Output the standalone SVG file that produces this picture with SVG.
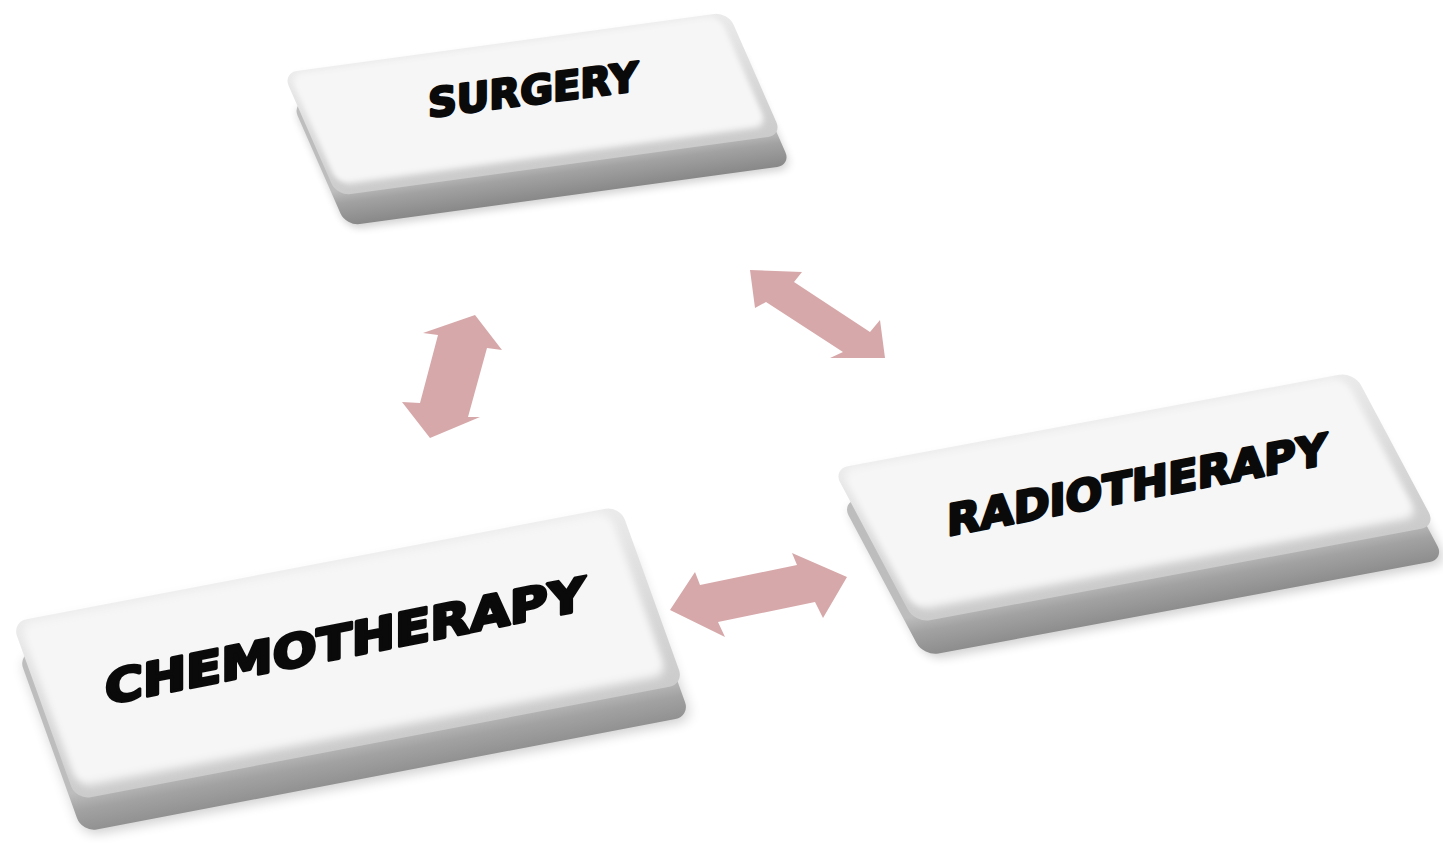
<svg xmlns="http://www.w3.org/2000/svg" width="1443" height="843" viewBox="0 0 1443 843">
  <defs>
    <linearGradient id="side" gradientUnits="userSpaceOnUse" x1="0" y1="96" x2="0" y2="124">
      <stop offset="0" stop-color="#bdbdbd"/>
      <stop offset="0.35" stop-color="#a2a2a2"/>
      <stop offset="1" stop-color="#888888"/>
    </linearGradient>
    <linearGradient id="edge" x1="0" y1="0" x2="0" y2="1">
      <stop offset="0" stop-color="#ebebeb"/>
      <stop offset="1" stop-color="#cbcbcb"/>
    </linearGradient>
    <filter id="soft" x="-10%" y="-10%" width="120%" height="120%">
      <feGaussianBlur stdDeviation="0.6 2.5"/>
    </filter>
    <filter id="sh" x="-10%" y="-20%" width="120%" height="140%">
      <feGaussianBlur stdDeviation="1 3"/>
    </filter>
    <style>
      .shadow { fill: #000; opacity: 0.18; }
      .face { fill: #f6f6f6; }
      .label { font-family: "DejaVu Sans", "Liberation Sans", sans-serif; font-weight: bold; fill: #0a0a0a; stroke: #0a0a0a; stroke-linejoin: round; text-anchor: middle; }
      .arrow { fill: #d7a8aa; }
    </style>
  </defs>
  <rect width="1443" height="843" fill="#ffffff"/>

  <g id="connectors">
    <polygon class="arrow" points="475,315 502,350 487,348 468,417 480,417 430,438 402,402 420,403 438,335 423,333"/>
    <polygon class="arrow" points="750,270 802,272 794,282 870,332 880,320 885,358 830,358 843,352 766,302 755,308"/>
    <polygon class="arrow" points="670,610 695,572 700,585 797,565 792,553 847,577 823,618 815,602 718,622 725,637"/>
  </g>

  <g id="surgery">
    <g transform="matrix(4.45,-0.61,0.54,1.23,283,73)">
      <rect class="shadow" x="-0.9" y="27" width="100" height="100" rx="3.1" ry="10.4" filter="url(#sh)"/>
      <rect x="-0.88" y="23.95" width="100" height="100" rx="3.1" ry="10.4" fill="url(#side)"/>
      <rect x="0" y="0" width="100" height="100" rx="3.1" ry="10.4" fill="url(#edge)"/>
      <rect class="face" x="1.2" y="1.5" width="96.6" height="90" rx="3" ry="10" filter="url(#soft)"/>
    </g>
    <text class="label" transform="translate(533,104) skewY(-7.3)" x="0" y="0" font-size="40" stroke-width="2.6" textLength="210" lengthAdjust="spacingAndGlyphs">SURGERY</text>
  </g>

  <g id="radiotherapy">
    <g transform="matrix(5.21,-0.97,0.82,1.54,833,469)">
      <rect class="shadow" x="-1.3" y="23.5" width="100" height="100" rx="2.85" ry="8.6" filter="url(#sh)"/>
      <rect x="-1.6" y="20.6" width="100" height="100" rx="2.85" ry="8.6" fill="url(#side)"/>
      <rect x="0" y="0" width="100" height="100" rx="2.85" ry="8.6" fill="url(#edge)"/>
      <rect class="face" x="1.1" y="1.5" width="96.8" height="91" rx="2.8" ry="8.5" filter="url(#soft)"/>
    </g>
    <text class="label" transform="translate(1137,500) skewY(-10.75)" x="0" y="0" font-size="43" stroke-width="2.8" textLength="380" lengthAdjust="spacingAndGlyphs">RADIOTHERAPY</text>
  </g>

  <g id="chemotherapy">
    <g transform="matrix(6.08,-1.16,0.64,1.78,12,622)">
      <rect class="shadow" x="-0.7" y="20" width="100" height="100" rx="2.4" ry="7.8" filter="url(#sh)"/>
      <rect x="-0.85" y="17.53" width="100" height="100" rx="2.4" ry="7.8" fill="url(#side)"/>
      <rect x="0" y="0" width="100" height="100" rx="2.4" ry="7.8" fill="url(#edge)"/>
      <rect class="face" x="1.0" y="1.5" width="97" height="92" rx="2.4" ry="7.8" filter="url(#soft)"/>
    </g>
    <text class="label" transform="translate(345,657) skewY(-11.2)" x="0" y="0" font-size="46" stroke-width="3.2" textLength="480" lengthAdjust="spacingAndGlyphs">CHEMOTHERAPY</text>
  </g>
</svg>
